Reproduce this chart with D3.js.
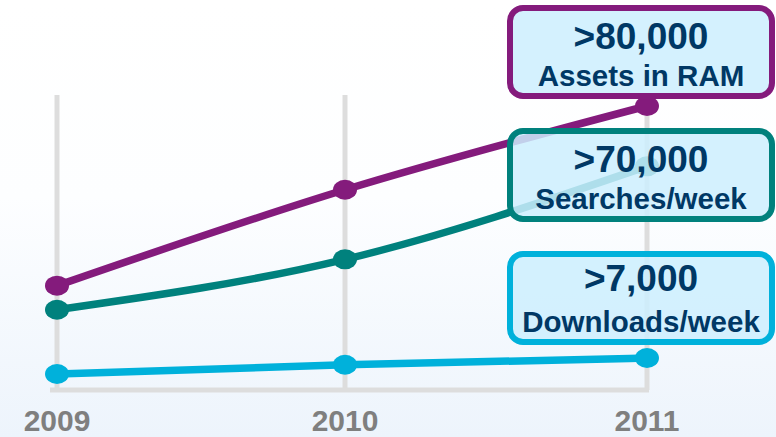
<!DOCTYPE html>
<html lang="en">
  <head>
    <meta charset="UTF-8" />
    <title>Growth 2009-2011</title>
    <script src="https://d3js.org/d3.v7.min.js"></script>
    <style>
      body {
        margin: 0;
        font-family: "Liberation Sans", Arial, sans-serif;
      }
      .year-label {
        font-size: 30px;
        font-weight: bold;
        fill: #7f7f7f;
      }
      .box-value {
        font-size: 37px;
        font-weight: bold;
        fill: #003865;
      }
      .box-text {
        font-size: 29.5px;
        font-weight: bold;
        fill: #003865;
      }
    </style>
  </head>
  <body>
    <div id="chart"></div>

    <script>
      const years = [2009, 2010, 2011];
      const assetsInRam = [29400, 56400, 80000];
      const searchesPerWeek = [22600, 36800, 63000];
      const downloadsPerWeek = [4500, 7100, 9000];

      const seriesNames = ["Assets in RAM", "Searches/week", "Downloads/week"];
      const seriesLabels = [">80,000", ">70,000", ">7,000"];
      const seriesColors = ["#841b7c", "#00817d", "#00b1db"];

      const width = 776;
      const height = 437;

      const svg = d3
        .select("#chart")
        .append("svg")
        .attr("width", width)
        .attr("height", height);

      // soft background gradient
      const grad = svg
        .append("defs")
        .append("linearGradient")
        .attr("id", "bg")
        .attr("x1", 0)
        .attr("y1", 0)
        .attr("x2", 0)
        .attr("y2", 1);
      grad.append("stop").attr("offset", "0%").attr("stop-color", "#ffffff");
      grad.append("stop").attr("offset", "45%").attr("stop-color", "#fdfeff");
      grad.append("stop").attr("offset", "100%").attr("stop-color", "#edf4fc");
      svg
        .append("rect")
        .attr("width", width)
        .attr("height", height)
        .attr("fill", "url(#bg)");

      // the year columns in the original are not quite evenly spaced
      const x = d3.scaleLinear().domain(years).range([57, 345, 647]);
      const y = d3.scaleLinear().domain([0, 80000]).range([390, 106]);

      // vertical grid lines
      svg
        .selectAll(".grid")
        .data(years)
        .enter()
        .append("line")
        .attr("class", "grid")
        .attr("x1", (d) => x(d))
        .attr("x2", (d) => x(d))
        .attr("y1", 95)
        .attr("y2", y(0))
        .attr("stroke", "#dddddd")
        .attr("stroke-width", 5);

      // baseline
      svg
        .append("line")
        .attr("x1", x(2009) - 7)
        .attr("x2", x(2011) + 2)
        .attr("y1", y(0))
        .attr("y2", y(0))
        .attr("stroke", "#dddddd")
        .attr("stroke-width", 5);

      svg
        .selectAll(".year-label")
        .data(years)
        .enter()
        .append("text")
        .attr("class", "year-label")
        .attr("x", (d) => x(d))
        .attr("y", 431)
        .attr("text-anchor", "middle")
        .text((d) => d);

      const series = [assetsInRam, searchesPerWeek, downloadsPerWeek].map(
        (values, i) => ({
          name: seriesNames[i],
          label: seriesLabels[i],
          color: seriesColors[i],
          points: values.map((v, j) => ({ year: years[j], value: v })),
        })
      );

      const line = d3
        .line()
        .x((d) => x(d.year))
        .y((d) => y(d.value))
        .curve(d3.curveMonotoneX);

      // draw bottom series first so the top ones sit above
      const drawOrder = series.slice().reverse();

      drawOrder.forEach((s) => {
        svg
          .append("path")
          .datum(s.points)
          .attr("d", line)
          .attr("fill", "none")
          .attr("stroke", s.color)
          .attr("stroke-width", 7.5)
          .attr("stroke-linecap", "round");

        svg
          .selectAll(null)
          .data(s.points)
          .enter()
          .append("ellipse")
          .attr("cx", (d) => x(d.year))
          .attr("cy", (d) => y(d.value))
          .attr("rx", 12)
          .attr("ry", 10)
          .attr("fill", s.color);
      });

      // callout boxes next to the 2011 values
      const boxTops = [8, 131, 254];
      const boxW = 262;
      const boxH = 88;
      const boxCx = x(2011) - 6;

      series.forEach((s, i) => {
        const g = svg
          .append("g")
          .attr("transform", `translate(${boxCx - boxW / 2},${boxTops[i]})`);

        g.append("rect")
          .attr("width", boxW)
          .attr("height", boxH)
          .attr("rx", 13)
          .attr("fill", "#cdeefe")
          .attr("fill-opacity", 0.85)
          .attr("stroke", s.color)
          .attr("stroke-width", 6);

        g.append("text")
          .attr("class", "box-value")
          .attr("x", boxW / 2)
          .attr("y", 41 - (i === 2 ? 4 : 0))
          .attr("text-anchor", "middle")
          .text(s.label);

        g.append("text")
          .attr("class", "box-text")
          .attr("x", boxW / 2)
          .attr("y", 78)
          .attr("text-anchor", "middle")
          .text(s.name);
      });
    </script>
  </body>
</html>
